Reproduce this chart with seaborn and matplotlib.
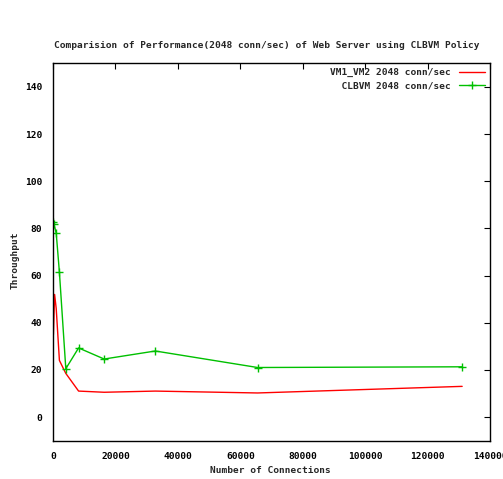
import matplotlib
matplotlib.use("Agg")
import matplotlib.pyplot as plt
import seaborn as sns
import pandas as pd

red_x = [128, 512, 1024, 2048, 4096, 8192, 16384, 32768, 65536, 131072]
red_y = [35, 52, 46, 24, 18.5, 11, 10.5, 11, 10.2, 13]
green_x = [128, 256, 1024, 2048, 4096, 8192, 16384, 32768, 65536, 131072]
green_y = [82.6, 82, 78, 61.4, 20.5, 29.3, 24.6, 28, 21, 21.3]
xticks = [0, 20000, 40000, 60000, 80000, 100000, 120000, 140000]
yticks = [0, 20, 40, 60, 80, 100, 120, 140]
title = "Comparision of Performance(2048 conn/sec) of Web Server using CLBVM Policy"
label_red = "VM1_VM2 2048 conn/sec"
label_green = "  CLBVM 2048 conn/sec"

sns.set_style("white")
plt.rcParams['font.family'] = ['DejaVu Sans Mono']
plt.rcParams['font.weight'] = 'bold'
plt.rcParams['font.size'] = 6.8

fig = plt.figure(figsize=(5.03, 4.79), dpi=100)
ax = fig.add_axes([0.1054, 0.0802, 0.8688, 0.7874])

df_r = pd.DataFrame({"x": red_x, "y": red_y})
df_g = pd.DataFrame({"x": green_x, "y": green_y})
sns.lineplot(data=df_r, x="x", y="y", ax=ax, color="#ff0000", linewidth=1.0, label=label_red)
sns.lineplot(data=df_g, x="x", y="y", ax=ax, color="#00c000", linewidth=1.0, marker="+",
             markersize=5.5, markeredgewidth=1.0, markeredgecolor="#00c000", label=label_green)

ax.set_xlim(0, 140000)
ax.set_ylim(-10, 150)
ax.set_xticks(xticks)
ax.set_yticks(yticks)
ax.set_xticklabels([str(v) for v in xticks], fontweight='bold')
ax.set_yticklabels([str(v) for v in yticks], fontweight='bold')
ax.tick_params(direction='in', length=4, width=0.8, top=True, right=True, colors='black', pad=8)
for s in ax.spines.values():
    s.set_color('black')
    s.set_linewidth(1.0)

ax.set_xlabel("Number of Connections", fontweight='bold')
ax.set_ylabel("Throughput", fontweight='bold')
ax.xaxis.set_label_coords(0.497, -0.078)
ax.yaxis.set_label_coords(-0.087, 0.479)
ax.xaxis.label.set_va('center')
ax.yaxis.label.set_va('center')
fig.text(0.53, 0.906, title, ha='center', va='center', fontweight='bold')

leg = ax.legend(loc='upper right', frameon=False, markerfirst=False, handlelength=2.8,
                borderaxespad=0.3, borderpad=0.2, labelspacing=0.45, handletextpad=0.9)
for t in leg.get_texts():
    t.set_fontweight('bold')

fig.savefig("out.png", dpi=100)
